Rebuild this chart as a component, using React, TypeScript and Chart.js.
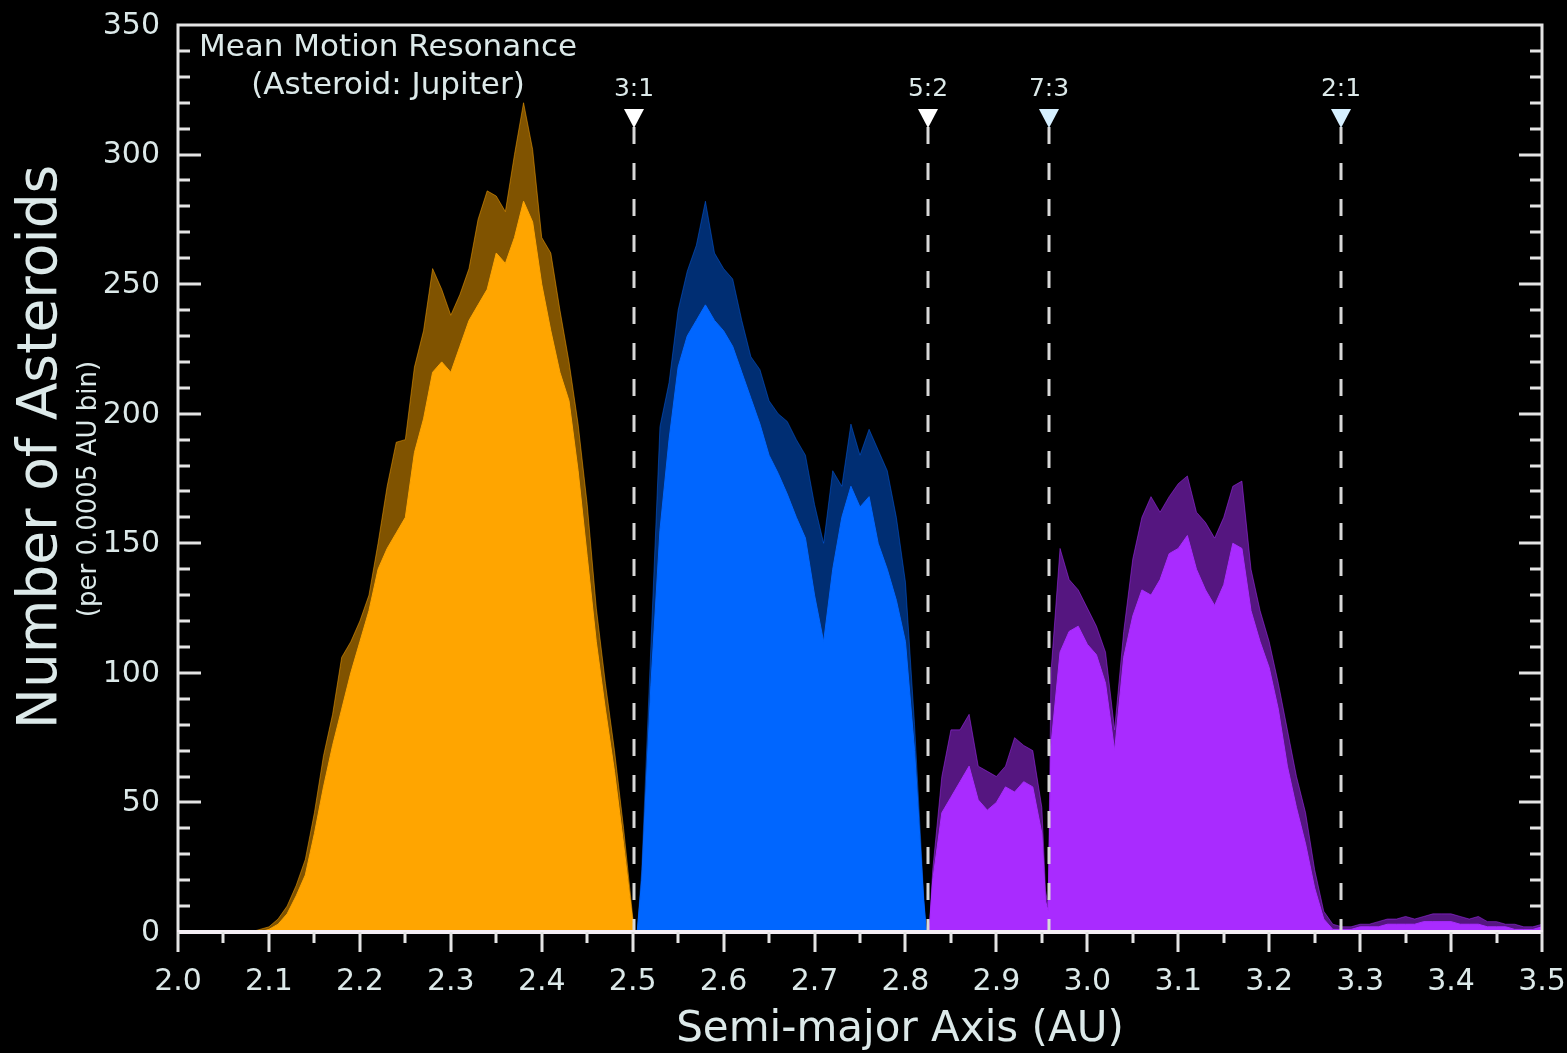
import React, { useEffect, useRef } from 'react';
import { Chart, registerables } from 'chart.js';

Chart.register(...registerables);

// Inner belt (between 2.0 AU and the 3:1 resonance)
const innerAU = [2.08, 2.09, 2.10, 2.11, 2.12, 2.13, 2.14, 2.15, 2.16, 2.17, 2.18, 2.19, 2.20, 2.21, 2.22, 2.23, 2.24, 2.25, 2.26, 2.27, 2.28, 2.29, 2.30, 2.31, 2.32, 2.33, 2.34, 2.35, 2.36, 2.37, 2.38, 2.39, 2.40, 2.41, 2.42, 2.43, 2.44, 2.45, 2.46, 2.47, 2.48, 2.49, 2.50, 2.502];
const innerCount = [0, 0, 1, 3, 7, 14, 22, 38, 56, 72, 86, 100, 112, 124, 140, 148, 154, 160, 185, 198, 216, 220, 216, 226, 236, 242, 248, 262, 258, 268, 282, 274, 250, 232, 216, 205, 178, 145, 112, 86, 62, 34, 4, 0];
const innerPeak = [0, 1, 2, 5, 10, 18, 28, 46, 68, 84, 106, 112, 120, 130, 150, 172, 189, 190, 218, 232, 256, 248, 238, 246, 256, 275, 286, 284, 278, 300, 320, 302, 268, 262, 240, 220, 196, 165, 125, 96, 70, 40, 6, 0];

// Middle belt (between the 3:1 and 5:2 resonances)
const middleAU = [2.505, 2.51, 2.52, 2.53, 2.54, 2.55, 2.56, 2.57, 2.58, 2.59, 2.60, 2.61, 2.62, 2.63, 2.64, 2.65, 2.66, 2.67, 2.68, 2.69, 2.70, 2.71, 2.72, 2.73, 2.74, 2.75, 2.76, 2.77, 2.78, 2.79, 2.80, 2.81, 2.82, 2.823];
const middleCount = [0, 20, 95, 155, 190, 218, 230, 236, 242, 236, 232, 226, 216, 206, 196, 184, 177, 169, 160, 152, 130, 112, 140, 160, 172, 164, 168, 150, 140, 128, 112, 70, 12, 0];
const middlePeak = [0, 24, 110, 195, 212, 240, 255, 265, 282, 262, 256, 252, 236, 222, 217, 205, 200, 197, 190, 184, 165, 150, 178, 172, 196, 184, 194, 186, 178, 160, 135, 80, 14, 0];

// Outer belt (beyond the 5:2 resonance, out to 3.5 AU)
const outerAU = [2.826, 2.83, 2.84, 2.85, 2.86, 2.87, 2.88, 2.89, 2.90, 2.91, 2.92, 2.93, 2.94, 2.95, 2.954, 2.957,
  2.96, 2.97, 2.98, 2.99, 3.00, 3.01, 3.02, 3.03, 3.04, 3.05,
  3.06, 3.07, 3.08, 3.09, 3.10, 3.11, 3.12, 3.13, 3.14, 3.15,
  3.16, 3.17, 3.18, 3.19, 3.20, 3.21, 3.22, 3.23, 3.24, 3.25,
  3.26, 3.27, 3.28, 3.29, 3.30, 3.31, 3.32, 3.33, 3.34, 3.35,
  3.36, 3.37, 3.38, 3.39, 3.40, 3.41, 3.42, 3.43, 3.44, 3.45,
  3.46, 3.47, 3.48, 3.49, 3.50];
const outerCount = [0, 20, 46, 52, 58, 64, 51, 47, 50, 56, 54, 58, 56, 38, 12, 8,
  72, 108, 116, 118, 111, 107, 96, 70, 106, 122,
  132, 130, 136, 146, 148, 153, 140, 132, 126, 134,
  150, 148, 124, 112, 102, 86, 64, 48, 34, 17,
  5, 1, 1, 1, 2, 2, 2, 3, 3, 3,
  3, 4, 4, 4, 4, 3, 3, 3, 2, 2,
  2, 1, 1, 1, 2];
const outerPeak = [0, 24, 60, 78, 78, 84, 64, 62, 60, 64, 75, 72, 70, 48, 16, 10,
  100, 148, 136, 132, 125, 118, 108, 78, 116, 144,
  160, 168, 162, 168, 173, 176, 162, 158, 152, 160,
  172, 174, 140, 124, 112, 96, 78, 60, 46, 24,
  8, 3, 2, 2, 3, 3, 4, 5, 5, 6,
  5, 6, 7, 7, 7, 6, 5, 6, 4, 4,
  3, 3, 2, 2, 3];

// Jupiter mean-motion resonances
const resonanceAU = [2.502, 2.825, 2.958, 3.279];
const resonanceLabels = ['3:1', '5:2', '7:3', '2:1'];
const resonanceMarkerColors = ['#ffffff', '#ffffff', '#d6f0ff', '#d6f0ff'];

// Axis ticks
const xTickValues = [2.0, 2.1, 2.2, 2.3, 2.4, 2.5, 2.6, 2.7, 2.8, 2.9, 3.0, 3.1, 3.2, 3.3, 3.4, 3.5];
const xTickLabels = ['2.0', '2.1', '2.2', '2.3', '2.4', '2.5', '2.6', '2.7', '2.8', '2.9', '3.0', '3.1', '3.2', '3.3', '3.4', '3.5'];
const yTickValues = [0, 50, 100, 150, 200, 250, 300, 350];
const yTickLabels = ['0', '50', '100', '150', '200', '250', '300', '350'];

const TEXT = '#dce9e9';
const FRAME = '#e4e4e4';
const FONT = "'DejaVu Sans', sans-serif";

const pts = (xs: number[], ys: number[]) => xs.map((x, i) => ({ x, y: ys[i] }));

function area(label: string, xs: number[], ys: number[], color: string, order: number) {
  return {
    label,
    data: pts(xs, ys),
    borderColor: color,
    backgroundColor: color,
    borderWidth: 1,
    pointRadius: 0,
    tension: 0,
    fill: 'origin',
    order,
  };
}

const frameAndLabels = {
  id: 'frameAndLabels',
  beforeDraw(chart: any) {
    const { ctx, width, height } = chart;
    ctx.save();
    ctx.fillStyle = '#000000';
    ctx.fillRect(0, 0, width, height);
    ctx.restore();
  },
  afterDraw(chart: any) {
    const { ctx, chartArea } = chart;
    const xs = chart.scales.x;
    const ys = chart.scales.y;
    const { left, right, top, bottom } = chartArea;
    ctx.save();

    // Resonance markers: dashed guides with downward triangles and ratio labels
    resonanceAU.forEach((a, i) => {
      const px = Math.round(xs.getPixelForValue(a));
      ctx.strokeStyle = '#d8d8d8';
      ctx.lineWidth = 3;
      ctx.setLineDash([17, 19]);
      ctx.beginPath();
      ctx.moveTo(px, 127);
      ctx.lineTo(px, bottom);
      ctx.stroke();
      ctx.setLineDash([]);
      ctx.fillStyle = resonanceMarkerColors[i];
      ctx.beginPath();
      ctx.moveTo(px - 10, 109);
      ctx.lineTo(px + 10, 109);
      ctx.lineTo(px, 128);
      ctx.closePath();
      ctx.fill();
      ctx.fillStyle = TEXT;
      ctx.font = `25px ${FONT}`;
      ctx.textAlign = 'center';
      ctx.textBaseline = 'middle';
      ctx.fillText(resonanceLabels[i], px, 89);
    });

    // Frame
    ctx.strokeStyle = FRAME;
    ctx.lineWidth = 3;
    ctx.beginPath();
    ctx.moveTo(left, bottom);
    ctx.lineTo(left, top);
    ctx.lineTo(right, top);
    ctx.lineTo(right, bottom);
    ctx.stroke();
    ctx.strokeStyle = '#f4eef4';
    ctx.lineWidth = 4;
    ctx.beginPath();
    ctx.moveTo(left - 1, bottom);
    ctx.lineTo(right + 1, bottom);
    ctx.stroke();

    // Y ticks on both sides (every 10, longer every 50)
    ctx.strokeStyle = FRAME;
    ctx.lineWidth = 3;
    for (let v = 10; v < 350; v += 10) {
      const py = Math.round(ys.getPixelForValue(v));
      const len = v % 50 === 0 ? 23 : 12;
      ctx.beginPath();
      ctx.moveTo(left, py);
      ctx.lineTo(left + len, py);
      ctx.moveTo(right, py);
      ctx.lineTo(right - len, py);
      ctx.stroke();
    }

    // X ticks below the axis (every 0.05, longer every 0.1)
    for (let k = 0; k <= 30; k++) {
      const a = 2 + k * 0.05;
      const px = Math.round(xs.getPixelForValue(a));
      const len = k % 2 === 0 ? 20 : 11;
      ctx.beginPath();
      ctx.moveTo(px, bottom);
      ctx.lineTo(px, bottom + len);
      ctx.stroke();
    }

    // Tick labels
    ctx.fillStyle = TEXT;
    ctx.font = `30px ${FONT}`;
    ctx.textAlign = 'center';
    ctx.textBaseline = 'middle';
    xTickValues.forEach((v, i) => {
      ctx.fillText(xTickLabels[i], xs.getPixelForValue(v), 982);
    });
    ctx.textAlign = 'right';
    yTickValues.forEach((v, i) => {
      ctx.fillText(yTickLabels[i], 160, ys.getPixelForValue(v) + 1);
    });

    // Axis titles
    ctx.textAlign = 'center';
    ctx.font = `42px ${FONT}`;
    ctx.fillText('Semi-major Axis (AU)', 900, 1030);

    ctx.save();
    ctx.translate(42, 447);
    ctx.rotate(-Math.PI / 2);
    ctx.font = `55px ${FONT}`;
    ctx.fillText('Number of Asteroids', 0, 0);
    ctx.restore();

    ctx.save();
    ctx.translate(89, 489);
    ctx.rotate(-Math.PI / 2);
    ctx.font = `26px ${FONT}`;
    ctx.fillText('(per 0.0005 AU bin)', 0, 0);
    ctx.restore();

    // In-plot annotation
    ctx.font = `31px ${FONT}`;
    ctx.fillText('Mean Motion Resonance', 388, 48);
    ctx.fillText('(Asteroid: Jupiter)', 388, 86);

    ctx.restore();
  },
};

export default function App() {
  const canvasRef = useRef<HTMLCanvasElement | null>(null);

  useEffect(() => {
    const canvas = canvasRef.current;
    if (!canvas) return;
    const chart = new Chart(canvas, {
      type: 'line',
      data: {
        datasets: [
          area('Inner belt', innerAU, innerCount, '#ffa500', 0),
          area('Middle belt', middleAU, middleCount, '#0066ff', 0),
          area('Outer belt', outerAU, outerCount, '#a92bff', 0),
          area('Inner belt spikes', innerAU, innerPeak, 'rgba(255,165,0,0.5)', 1),
          area('Middle belt spikes', middleAU, middlePeak, 'rgba(0,102,255,0.45)', 1),
          area('Outer belt spikes', outerAU, outerPeak, 'rgba(169,43,255,0.5)', 1),
        ] as any,
      },
      options: {
        animation: false,
        responsive: false,
        devicePixelRatio: 1,
        layout: { padding: { left: 178, right: 25, top: 25, bottom: 121 } },
        scales: {
          x: { type: 'linear', min: 2.0, max: 3.5, display: false },
          y: { type: 'linear', min: 0, max: 350, display: false },
        },
        plugins: {
          legend: { display: false },
          tooltip: { enabled: false },
        },
        elements: { line: { borderJoinStyle: 'miter' } },
      } as any,
      plugins: [frameAndLabels],
    });
    return () => chart.destroy();
  }, []);

  return (
    <div style={{ position: 'fixed', left: 0, top: 0, width: 1567, height: 1053, background: '#000' }}>
      <canvas ref={canvasRef} width={1567} height={1053} style={{ display: 'block' }} />
    </div>
  );
}
